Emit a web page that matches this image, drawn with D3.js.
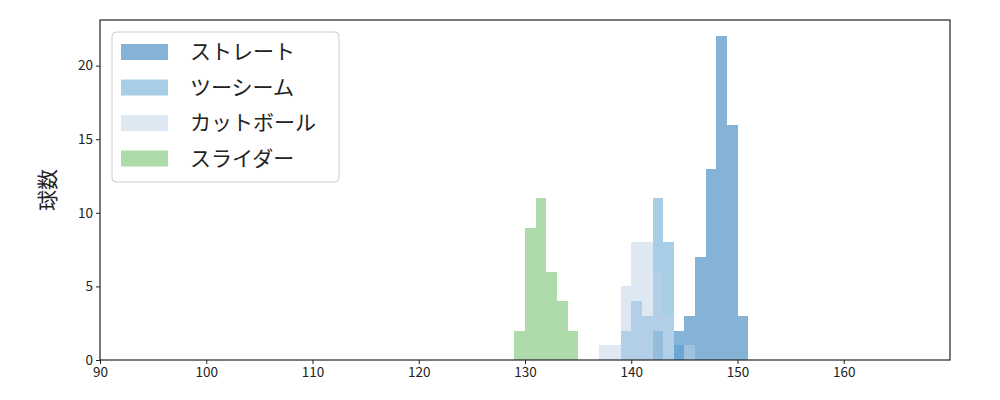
<!DOCTYPE html>
<html>
<head>
<meta charset="utf-8">
<script src="https://cdn.jsdelivr.net/npm/d3@7"></script>
<style>
  body { margin: 0; background: #fff; }
  text { font-family: "Noto Sans CJK JP", sans-serif; }
</style>
</head>
<body>
<script>
// pitch types in drawing order
var pitchNames = ["ストレート", "ツーシーム", "カットボール", "スライダー"];
var pitchColors = ["rgb(9,103,175)", "rgb(81,155,205)", "rgb(187,209,231)", "rgb(91,183,85)"];

// bins: left edge (km/h), count
var straightBins = [142, 144, 145, 146, 147, 148, 149, 150];
var straightCounts = [2, 2, 3, 7, 13, 22, 16, 3];
var twoSeamBins = [139, 140, 141, 142, 143, 144];
var twoSeamCounts = [2, 4, 3, 11, 8, 1];
var cutBins = [137, 138, 139, 140, 141, 142, 143, 145];
var cutCounts = [1, 1, 5, 8, 8, 6, 3, 1];
var sliderBins = [129, 130, 131, 132, 133, 134];
var sliderCounts = [2, 9, 11, 6, 4, 2];

var xTicks = [90, 100, 110, 120, 130, 140, 150, 160];
var yTicks = [0, 5, 10, 15, 20];

var series = [
  {bins: straightBins, counts: straightCounts},
  {bins: twoSeamBins, counts: twoSeamCounts},
  {bins: cutBins, counts: cutCounts},
  {bins: sliderBins, counts: sliderCounts}
];

var width = 1000, height = 400,
    margin = {top: 20, right: 50, bottom: 40, left: 100};

var svg = d3.select("body").append("svg")
    .attr("width", width)
    .attr("height", height);

var x = d3.scaleLinear()
    .domain([90, 170])
    .range([margin.left, width - margin.right]);

var y = d3.scaleLinear()
    .domain([0, 23.1])
    .range([height - margin.bottom, margin.top]);

series.forEach(function(s, i) {
  svg.append("g")
    .selectAll("rect")
    .data(s.bins.map(function(b, j) { return {x0: b, n: s.counts[j]}; }))
    .enter().append("rect")
      .attr("x", function(d) { return x(d.x0); })
      .attr("width", function(d) { return x(d.x0 + 1) - x(d.x0); })
      .attr("y", function(d) { return y(d.n); })
      .attr("height", function(d) { return y(0) - y(d.n); })
      .attr("fill", pitchColors[i])
      .attr("fill-opacity", 0.5)
      .attr("shape-rendering", "crispEdges");
});

// axes
var xAxis = svg.append("g")
    .attr("transform", "translate(0," + y(0) + ")")
    .call(d3.axisBottom(x).tickValues(xTicks).tickSize(4).tickPadding(3));

var yAxis = svg.append("g")
    .attr("transform", "translate(" + margin.left + ",0)")
    .call(d3.axisLeft(y).tickValues(yTicks).tickSize(4).tickPadding(3));

[xAxis, yAxis].forEach(function(a) {
  a.select(".domain").remove();
  a.selectAll("line").attr("stroke", "#222").attr("stroke-width", 1);
  a.selectAll("text").attr("fill", "#222")
    .style("font-size", "13.5px");
});

svg.append("rect")
    .attr("x", margin.left)
    .attr("y", margin.top)
    .attr("width", width - margin.left - margin.right)
    .attr("height", height - margin.top - margin.bottom)
    .attr("fill", "none")
    .attr("stroke", "#222")
    .attr("stroke-width", 1.2);

svg.append("text")
    .attr("transform", "translate(48," + (margin.top + (height - margin.top - margin.bottom) / 2) + ") rotate(-90)")
    .attr("text-anchor", "middle")
    .attr("dy", "0.35em")
    .style("font-size", "21px")
    .attr("fill", "#222")
    .text("球数");

// legend
var legend = svg.append("g").attr("transform", "translate(112,32)");

legend.append("rect")
    .attr("width", 227)
    .attr("height", 150)
    .attr("rx", 4)
    .attr("fill", "#fff")
    .attr("fill-opacity", 0.8)
    .attr("stroke", "#ccc");

var item = legend.selectAll(".item")
    .data(pitchNames)
    .enter().append("g")
      .attr("transform", function(d, i) { return "translate(0," + (20 + i * 35.5) + ")"; });

item.append("rect")
    .attr("x", 9)
    .attr("y", -8)
    .attr("width", 47)
    .attr("height", 16)
    .attr("fill", function(d, i) { return pitchColors[i]; })
    .attr("fill-opacity", 0.5);

item.append("text")
    .attr("x", 78)
    .attr("dy", "0.35em")
    .style("font-size", "21px")
    .attr("fill", "#222")
    .text(function(d) { return d; });
</script>
</body>
</html>
